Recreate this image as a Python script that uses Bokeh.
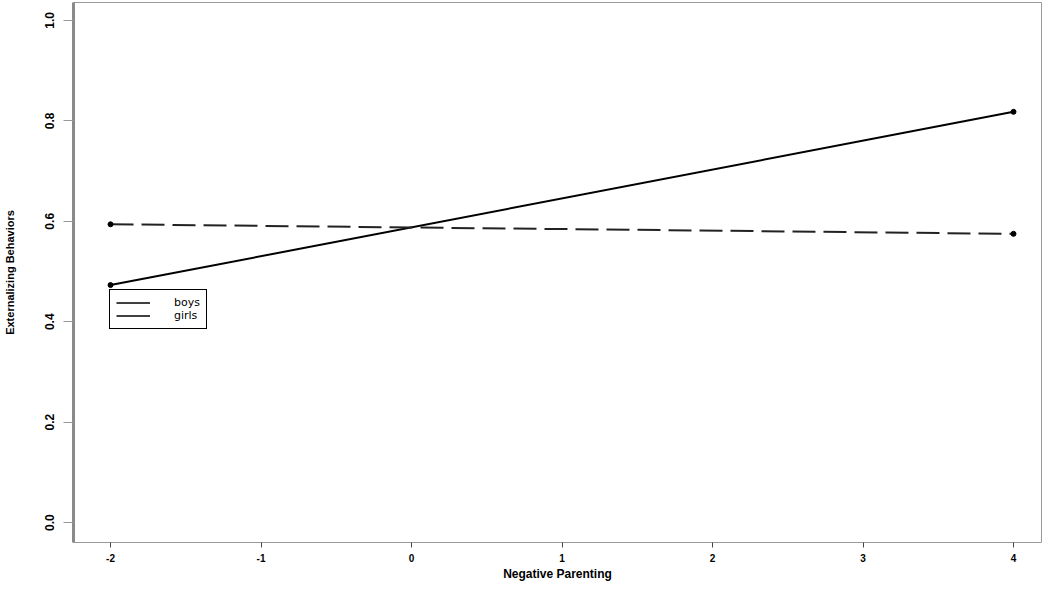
from bokeh.plotting import figure
from bokeh.models import Range1d, FixedTicker, Legend, LegendItem, PrintfTickFormatter
from bokeh.embed import file_html
from bokeh.resources import INLINE

x_vals = [-2, 4]
boys = [0.473, 0.818]
girls = [0.594, 0.575]
x_ticks = [-2, -1, 0, 1, 2, 3, 4]
y_ticks = [0.0, 0.2, 0.4, 0.6, 0.8, 1.0]

p = figure(width=1042, height=583, output_backend="svg", toolbar_location=None,
           x_range=Range1d(-2.246, 4.186), y_range=Range1d(-0.0397, 1.0357),
           min_border_left=73, min_border_right=1, min_border_top=2, min_border_bottom=40)
p.xgrid.visible = False
p.ygrid.visible = False
p.outline_line_color = "#9a9a9a"
p.outline_line_width = 1
p.background_fill_color = "white"
p.border_fill_color = "white"

p.line(x_vals, boys, line_color="black", line_width=2)
p.scatter(x_vals, boys, size=5, color="black")
p.line(x_vals, girls, line_color="#222222", line_width=2, line_dash="23 8")
p.scatter(x_vals, girls, size=5, color="black")

# legend-key renderers placed outside the visible ranges (clipped away)
off_x = [-20, -19]
off_y = [-20, -20]
lb = p.line(off_x, off_y, line_color="black", line_width=1.5)
lg = p.line(off_x, off_y, line_color="black", line_width=1.5, line_dash="40 4")

xa = p.xaxis[0]
xa.ticker = FixedTicker(ticks=x_ticks)
xa.formatter = PrintfTickFormatter(format="%d")
xa.axis_line_color = None
xa.major_tick_out = 5
xa.major_tick_in = 0
xa.minor_tick_line_color = None
xa.major_tick_line_color = "#444444"
xa.major_label_text_font = "Liberation Sans"
xa.major_label_text_font_style = "bold"
xa.major_label_text_font_size = "10px"
xa.major_label_text_color = "black"
xa.major_label_standoff = 6
xa.axis_label = "Negative Parenting"
xa.axis_label_text_font = "Liberation Sans"
xa.axis_label_text_font_style = "bold"
xa.axis_label_text_font_size = "12px"
xa.axis_label_text_color = "black"
xa.axis_label_standoff = 2

ya = p.yaxis[0]
ya.ticker = FixedTicker(ticks=y_ticks)
ya.formatter = PrintfTickFormatter(format="%.1f")
ya.axis_line_color = "#8a8a8a"
ya.axis_line_width = 3
ya.major_tick_out = 10
ya.major_tick_in = 0
ya.minor_tick_line_color = None
ya.major_tick_line_color = "#999999"
ya.major_label_orientation = "vertical"
ya.major_label_text_font = "Liberation Sans"
ya.major_label_text_font_style = "bold"
ya.major_label_text_font_size = "12px"
ya.major_label_text_color = "black"
ya.major_label_standoff = 9
ya.axis_label = "Externalizing Behaviors"
ya.axis_label_text_font = "Liberation Sans"
ya.axis_label_text_font_style = "bold"
ya.axis_label_text_font_size = "11px"
ya.axis_label_text_color = "black"
ya.axis_label_standoff = 27

legend = Legend(items=[LegendItem(label="boys", renderers=[lb]),
                       LegendItem(label="girls", renderers=[lg])],
                location=(36, 213), orientation="vertical",
                border_line_color="black", border_line_width=1, border_line_alpha=1.0,
                label_text_font="DejaVu Sans", label_text_font_size="11px",
                label_text_color="black",
                glyph_width=34, glyph_height=11, label_height=11,
                spacing=0, padding=6, margin=0, label_standoff=24,
                background_fill_alpha=1.0)
p.add_layout(legend, "center")

open("out.html", "w").write(file_html(p, INLINE))
